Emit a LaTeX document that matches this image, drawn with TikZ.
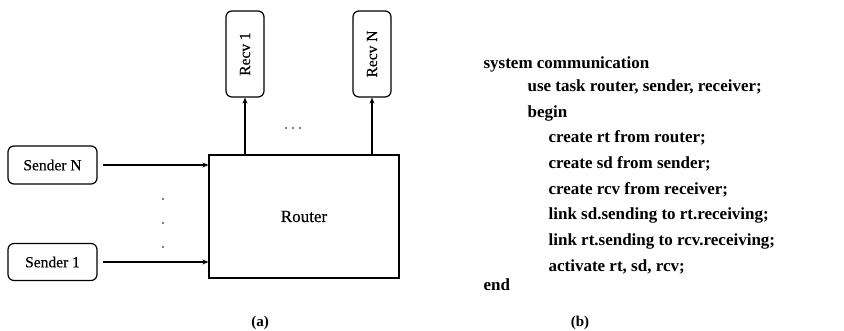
\documentclass[tikz,border=0pt]{standalone}
\usepackage{fontspec}
\setmainfont{Liberation Serif}
\newfontfamily\lblfont{Liberation Serif}[FakeBold=0.5]
\usetikzlibrary{arrows.meta}
\begin{document}
\begin{tikzpicture}[x=1pt,y=-1pt,
  line width=1.2pt,
  box/.style={draw, rounded corners=6pt, inner sep=0pt, font=\fontsize{15.5}{18}\lblfont},
  plainbox/.style={draw, inner sep=0pt, font=\fontsize{17}{20}\lblfont},
  flow/.style={-{Stealth[length=6pt,width=5pt]}},
  code/.style={anchor=west, inner sep=0pt, font=\fontsize{17}{20}\selectfont\bfseries},
  caption/.style={inner sep=0pt, font=\fontsize{15}{18}\selectfont\bfseries},
  dot/.style={fill, circle, inner sep=0pt, minimum size=1.8pt}]
\useasboundingbox (0,0) rectangle (844,330);

% part (a): senders, router and receivers
\node[box, minimum width=89pt, minimum height=38pt] (sn) at (52.5,165) {Sender N};
\node[box, minimum width=89pt, minimum height=37pt] (s1) at (52.5,262) {Sender 1};
\node[plainbox, minimum width=190pt, minimum height=123pt] (rt) at (304,216.5) {Router};
\node[box, minimum width=38pt, minimum height=86pt] (r1) at (245,54) {\rotatebox{90}{Recv 1}};
\node[box, minimum width=38pt, minimum height=86pt] (rn) at (372,54) {\rotatebox{90}{Recv N}};

\draw[flow, shorten <=5pt] (sn.east) -- (sn.east -| rt.west);
\draw[flow, shorten <=5pt] (s1.east) -- (s1.east -| rt.west);
\draw[flow] (r1.south |- rt.north) -- (r1.south);
\draw[flow] (rn.south |- rt.north) -- (rn.south);

% elision marks
\node[dot] (v1) at (163,199) {};
\node[dot] (v2) at (163,223) {};
\node[dot] (v3) at (163,247) {};
\node[dot] (h1) at (286,128) {};
\node[dot] (h2) at (293,128) {};
\node[dot] (h3) at (300,128) {};

\node[caption] (capa) at (260,323) {(a)};

% part (b): system description
\node[code] (c1) at (483,64) {system communication};
\node[code] (c2) at (527,87) {use task router, sender, receiver;};
\node[code] (c3) at (527,113) {begin};
\node[code] (c4) at (548,138) {create rt from router;};
\node[code] (c5) at (548,164) {create sd from sender;};
\node[code] (c6) at (548,190) {create rcv from receiver;};
\node[code] (c7) at (548,215) {link sd.sending to rt.receiving;};
\node[code] (c8) at (548,241) {link rt.sending to rcv.receiving;};
\node[code] (c9) at (548,267) {activate rt, sd, rcv;};
\node[code] (c10) at (483,285) {end};

\node[caption] (capb) at (580,323) {(b)};
\end{tikzpicture}
\end{document}
